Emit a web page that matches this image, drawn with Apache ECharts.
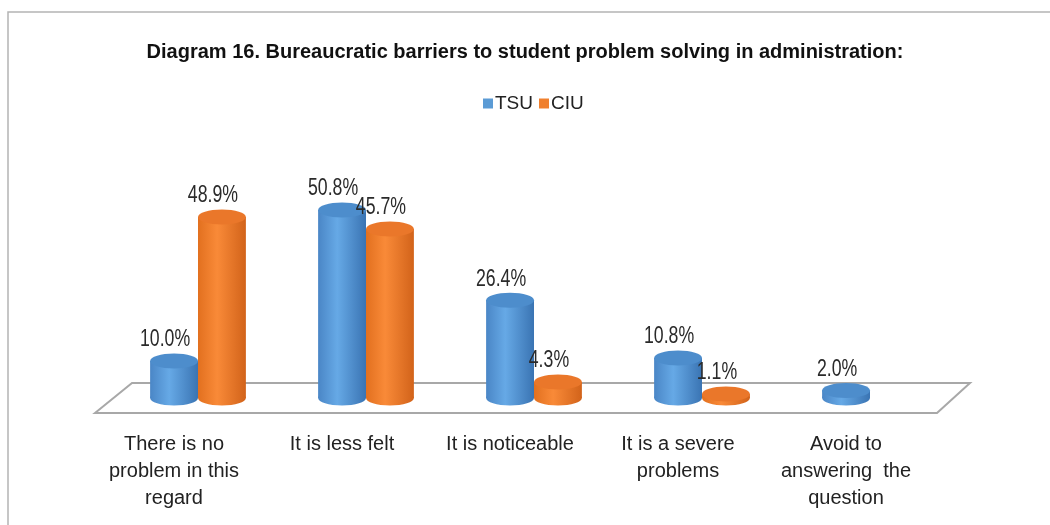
<!DOCTYPE html>
<html>
<head>
<meta charset="UTF-8">
<title>Diagram 16</title>
<script src="https://cdn.jsdelivr.net/npm/echarts@6/dist/echarts.min.js"></script>
<style>
  html, body { margin: 0; padding: 0; background: #fff; }
  #main { width: 1050px; height: 525px; }
</style>
</head>
<body>
<div id="main"></div>
<script>
// chart data
var categories = [
    'There is no\nproblem in this\nregard',
    'It is less felt',
    'It is noticeable',
    'It is a severe\nproblems',
    'Avoid to\nanswering  the\nquestion'
];
var tsuValues = [10.0, 50.8, 26.4, 10.8, 2.0];
var ciuValues = [48.9, 45.7, 4.3, 1.1, '-'];

var FONT = '"Liberation Sans", Arial, sans-serif';

var chart = echarts.init(document.getElementById('main'));

// a cylinder drawn from the axis coords; side = -1 left bar, +1 right bar
function cylinder(side, c) {
    return function (params, api) {
        var val = api.value(1);
        if (isNaN(val)) return null;
        var top = api.coord([api.value(0), val]);
        var base = api.coord([api.value(0), 0]);
        var w = api.size([1, 0])[0] * 0.285;
        var cx = top[0] + side * w / 2;
        var ry = 7.5;
        var body = new echarts.graphic.LinearGradient(0, 0, 1, 0, [
            { offset: 0, color: c.edge },
            { offset: 0.4, color: c.light },
            { offset: 1, color: c.dark }
        ]);
        return {
            type: 'group',
            children: [
                { type: 'ellipse', shape: { cx: cx, cy: base[1], rx: w / 2, ry: ry }, style: { fill: body } },
                { type: 'rect', shape: { x: cx - w / 2, y: top[1], width: w, height: base[1] - top[1] }, style: { fill: body } },
                { type: 'ellipse', shape: { cx: cx, cy: top[1], rx: w / 2, ry: ry }, style: { fill: c.top } },
                {
                    type: 'text',
                    x: cx - 9, y: top[1] - ry - 2,
                    scaleX: 0.77,
                    style: {
                        text: val.toFixed(1) + '%',
                        x: 0, y: 0,
                        align: 'center', verticalAlign: 'bottom',
                        font: '23px ' + FONT, fill: '#2a2a2a'
                    }
                }
            ]
        };
    };
}

var blue = { edge: '#4a86c6', light: '#66a9e6', dark: '#3a74b3', top: '#4d8dcc' };
var orange = { edge: '#e2701f', light: '#f98a38', dark: '#d2631a', top: '#ea772a' };

chart.setOption({
    animation: false,
    title: {
        text: 'Diagram 16. Bureaucratic barriers to student problem solving in administration:',
        left: 'center', top: 37,
        textStyle: { fontFamily: FONT, fontSize: 20, fontWeight: 'bold', color: '#111' }
    },
    legend: {
        top: 89, left: 478,
        icon: 'rect', itemWidth: 10, itemHeight: 10, itemGap: 6,
        textStyle: { fontFamily: FONT, fontSize: 19, color: '#222', padding: [0, 0, 0, -3] },
        data: ['TSU', 'CIU']
    },
    grid: { left: 114, right: 96, top: 176, bottom: 127 },
    xAxis: {
        type: 'category',
        data: categories,
        axisLine: { show: false },
        axisTick: { show: false },
        axisLabel: {
            margin: 33, interval: 0,
            fontFamily: FONT, fontSize: 20, lineHeight: 27, color: '#222',
            padding: [0, 48, 0, 0]
        }
    },
    yAxis: { type: 'value', min: 0, max: 60, show: false, splitLine: { show: false } },
    series: [
        { name: 'TSU', type: 'custom', z: 3, itemStyle: { color: '#5b9bd5' }, renderItem: cylinder(-1, blue), data: tsuValues.map(function (v, i) { return [i, v]; }) },
        { name: 'CIU', type: 'custom', z: 3, itemStyle: { color: '#f0802e' }, renderItem: cylinder(1, orange), data: ciuValues.map(function (v, i) { return [i, v]; }) }
    ]
});

// floor and outer frame, placed from the grid's pixel space
var zeroY = chart.convertToPixel({ gridIndex: 0 }, [0, 0])[1];
var gl = 114, gr = 1050 - 96;
chart.setOption({
    graphic: [
        {
            type: 'rect', z: 0,
            shape: { x: 8, y: 12, width: 1100, height: 600 },
            style: { fill: 'none', stroke: '#b4b4b4', lineWidth: 1.5 }
        },
        {
            type: 'polygon', z: 1,
            shape: { points: [[gl - 19, zeroY + 15], [gl + 18, zeroY - 15], [gr + 16, zeroY - 15], [gr - 17, zeroY + 15]] },
            style: { fill: '#fff', stroke: '#a8a8a8', lineWidth: 2 }
        }
    ]
});
</script>
</body>
</html>
